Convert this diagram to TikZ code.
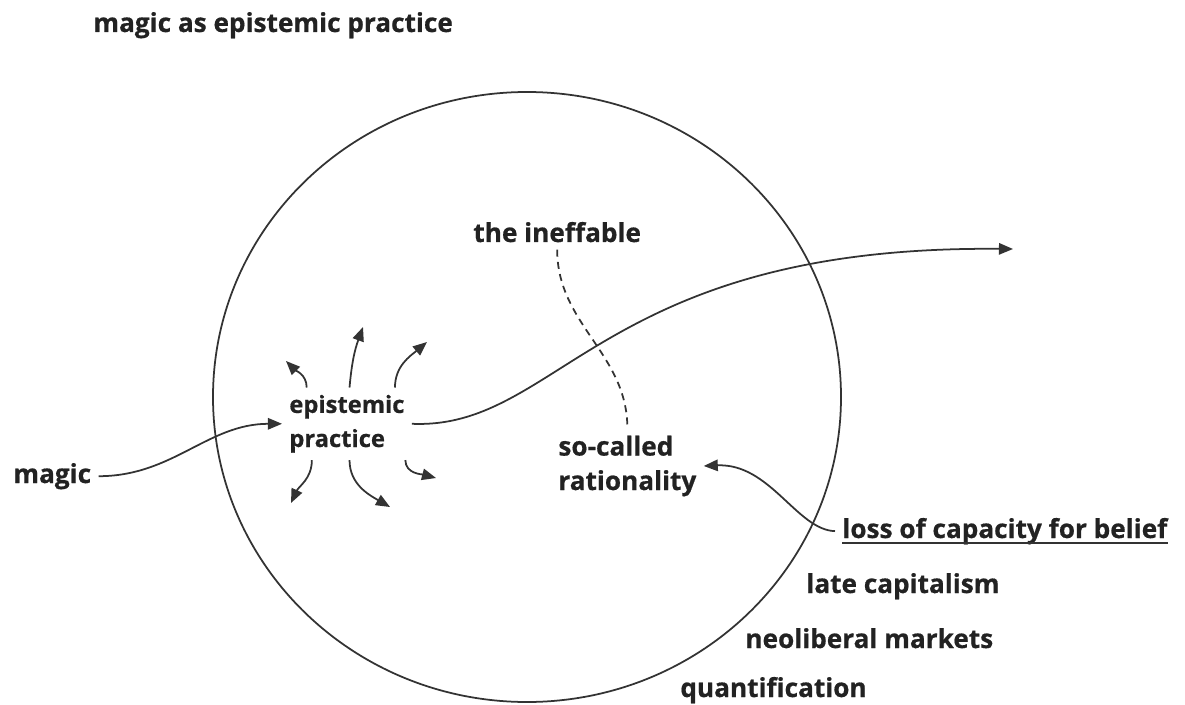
\documentclass[tikz,border=0pt]{standalone}
\usepackage{fontspec}
\setmainfont{Open Sans}[BoldFeatures={FakeBold=0.6}]
\usepackage{tikz}
\usetikzlibrary{arrows.meta,calc}

\definecolor{ink}{HTML}{222222}
\definecolor{wire}{HTML}{333333}

\tikzset{
  label/.style={inner sep=4pt, anchor=base west, text=ink, align=left,
    font=\fontsize{14.9}{19.6}\selectfont\bfseries},
  small label/.style={label, font=\fontsize{13.5}{19.4}\selectfont\bfseries},
  wire/.style={draw=wire, line width=1pt},
  flow/.style={wire, ->},
}

\begin{document}
\begin{tikzpicture}[x=0.02cm, y=0.02cm, >={Triangle[length=8pt,width=6.5pt]}]
            \useasboundingbox (0, 0) rectangle (1185, 704);

            \node[label] (title) at (86, 672) {magic as epistemic practice};

            \draw[wire] (527, 307) ellipse [x radius=314, y radius=305];

            % the base of a two line label is its last line
            \node[label] (ineff) at (466, 462) {the ineffable};
            \node[small label] (ep) at (282, 257) {epistemic\\practice};
            \node[label] (rat) at (551, 214) {so-called\\rationality};
            \node[label] (magic) at (6, 221) {magic};
            \node[label] (loss) at (835, 166) {loss of capacity for belief};
            \draw[wire] ([yshift=-2.8pt]loss.base west) ++(7, 0) -- ([yshift=-2.8pt, xshift=-4pt]loss.base east);
            \node[label] (late) at (799, 111) {late capitalism};
            \node[label] (neo) at (738, 56) {neoliberal markets};
            \node[label] (quant) at (673, 7) {quantification};

            % main flows
            \coordinate (beyond) at (1013, 455);
            \draw[flow] (magic.east) to[out=0, in=180] (ep.west);
            \draw[flow] (ep.east) .. controls (560, 274) and (600, 459) .. (beyond);
            \draw[wire, dash pattern=on 4pt off 3pt] (ineff.south) to[out=-90, in=90] (rat.north);
            \draw[flow] (loss.west) .. controls (797, 174) and (770, 241) .. (rat.east);

            % little arrows leaving the practice
            \coordinate (s1) at (286, 343);
            \coordinate (s2) at (363, 377);
            \coordinate (s3) at (427, 362);
            \coordinate (s4) at (291, 201);
            \coordinate (s5) at (390, 197);
            \coordinate (s6) at (436, 226);
            \draw[flow] ($(ep.north west)!0.19!(ep.north east)$) to[out=90, in=-45] (s1);
            \draw[flow] ($(ep.north west)!0.52!(ep.north east)$) to[out=85, in=-110] (s2);
            \draw[flow] ($(ep.north west)!0.87!(ep.north east)$) to[out=90, in=-140] (s3);
            \draw[flow] ($(ep.south west)!0.23!(ep.south east)$) to[out=-90, in=65] (s4);
            \draw[flow] ($(ep.south west)!0.52!(ep.south east)$) to[out=-90, in=150] (s5);
            \draw[flow] ($(ep.south west)!0.95!(ep.south east)$) to[out=-90, in=165] (s6);
        \end{tikzpicture}
\end{document}
